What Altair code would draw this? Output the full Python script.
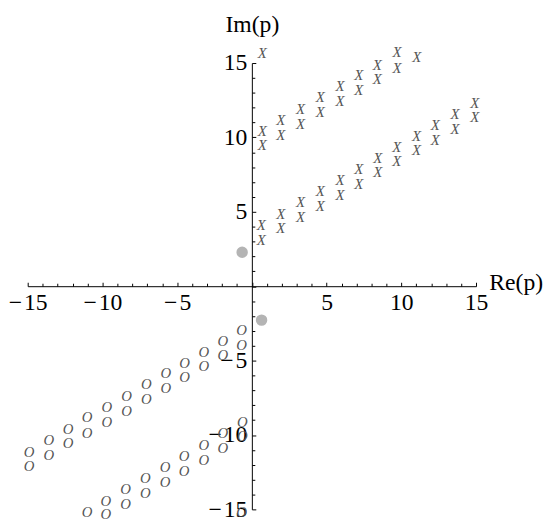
import altair as alt
import pandas as pd

# ---- data ----
# "X" markers (upper right)
x_band1_x = [0.63, 1.94, 3.26, 4.58, 5.90, 7.15, 8.42, 9.70, 11.02, 12.27, 13.59, 14.91]
x_band1_lo = [3.12, 3.91, 4.65, 5.38, 6.11, 6.85, 7.64, 8.40, 9.12, 9.85, 10.59, 11.37]
x_band1_hi = [4.11, 4.87, 5.64, 6.37, 7.14, 7.87, 8.61, 9.34, 10.11, 10.84, 11.60, 12.31]
x_band2_x = [0.69, 1.94, 3.26, 4.58, 5.90, 7.15, 8.40, 9.72, 11.04]
x_band2_lo = [9.47, 10.15, 10.92, 11.72, 12.44, 13.17, 13.89, 14.69, 15.41]
x_band2_hi = [10.46, 11.19, 11.91, 12.71, 13.43, 14.16, 14.88, 15.74]
x_band3_x = [0.69]
x_band3_lo = [15.68]

# "O" markers (lower left)
o_band1_x = [-0.69, -1.94, -3.22, -4.50, -5.75, -7.07, -8.39, -9.70, -11.02, -12.29, -13.59, -14.91]
o_band1_hi = [-2.98, -3.71, -4.41, -5.14, -5.84, -6.61, -7.38, -8.11, -8.81, -9.58, -10.35, -11.12]
o_band1_lo = [-3.93, -4.63, -5.40, -6.13, -6.83, -7.60, -8.37, -9.14, -9.87, -10.57, -11.34, -12.11]
o_band2_x = [-0.63, -1.94, -3.22, -4.54, -5.81, -7.13, -8.45, -9.77, -11.02]
o_band2_hi = [-9.14, -9.87, -10.68, -11.45, -12.16, -12.88, -13.65, -14.42, -15.19]
o_band2_lo = [-10.09, -10.90, -11.67, -12.44, -13.17, -13.91, -14.64, -15.30]
o_band3_x = [-0.69]
o_band3_hi = [-15.20]

# grey dots
dot_x = [-0.65, 0.65]
dot_y = [2.28, -2.28]

major_ticks = [-15, -10, -5, 5, 10, 15]
all_ticks = list(range(-15, 16))


def pts(xs, ys, label):
    return [{"re": a, "im": b, "m": label} for a, b in zip(xs, ys)]


x_rows = (pts(x_band1_x, x_band1_lo, "X") + pts(x_band1_x, x_band1_hi, "X")
          + pts(x_band2_x, x_band2_lo, "X") + pts(x_band2_x, x_band2_hi, "X")
          + pts(x_band3_x, x_band3_lo, "X"))
o_rows = (pts(o_band1_x, o_band1_hi, "O") + pts(o_band1_x, o_band1_lo, "O")
          + pts(o_band2_x, o_band2_hi, "O") + pts(o_band2_x, o_band2_lo, "O")
          + pts(o_band3_x, o_band3_hi, "O"))
df_x = pd.DataFrame(x_rows)
df_o = pd.DataFrame(o_rows)
df_dot = pd.DataFrame({"re": dot_x, "im": dot_y})

W, H = 455, 453
FONT = "Liberation Serif"
FS = 24
scale = alt.Scale(domain=[-15, 15], nice=False, zero=False)
tick_size = {"condition": {"test": "datum.value % 5 === 0", "value": 4}, "value": 3}
minus_expr = "datum.value < 0 ? '\u2212\u200a' + abs(datum.value) : datum.label"

x_tick_axis = alt.Axis(orient="top", offset=-H / 2, values=all_ticks, labels=False,
                       grid=False, domainColor="black", domainWidth=1,
                       tickColor="black", tickWidth=1, tickSize=tick_size,
                       title="Re(p)", titleX=W + 13, titleY=3, titleAlign="left",
                       titleBaseline="alphabetic", titleFont=FONT, titleFontSize=FS,
                       titleFontWeight="normal", titleColor="black")
y_tick_axis = alt.Axis(orient="right", offset=-W / 2, values=all_ticks, labels=False,
                       grid=False, domainColor="black", domainWidth=1,
                       tickColor="black", tickWidth=1, tickSize=tick_size,
                       title="Im(p)", titleAngle=0, titleX=0, titleY=-32,
                       titleAlign="center", titleBaseline="alphabetic", titleFont=FONT,
                       titleFontSize=FS, titleFontWeight="normal", titleColor="black")
x_label_axis = alt.Axis(orient="bottom", offset=-H / 2, values=major_ticks, ticks=False,
                        tickSize=0, domain=False, grid=False, labelFlush=False,
                        labelOverlap=False, labelFont=FONT, labelFontSize=FS,
                        labelColor="black", labelPadding=5, labelExpr=minus_expr,
                        title=None)
y_label_axis = alt.Axis(orient="left", offset=-W / 2, values=major_ticks, ticks=False,
                        tickSize=0, domain=False, grid=False, labelFlush=False,
                        labelOverlap=False, labelFont=FONT, labelFontSize=FS,
                        labelColor="black", labelPadding=5, labelExpr=minus_expr,
                        title=None)

marker_style = dict(font=FONT, fontSize=15, fontStyle="italic", color="#555555",
                    align="center", baseline="middle")

xs_layer = alt.Chart(df_x).mark_text(**marker_style).encode(
    x=alt.X("re:Q", scale=scale, axis=x_tick_axis),
    y=alt.Y("im:Q", scale=scale, axis=y_tick_axis),
    text="m:N",
)
os_layer = alt.Chart(df_o).mark_text(**marker_style).encode(
    x=alt.X("re:Q", scale=scale, axis=x_label_axis),
    y=alt.Y("im:Q", scale=scale, axis=y_label_axis),
    text="m:N",
)
dots = alt.Chart(df_dot).mark_circle(size=135, color="#b4b4b4", opacity=1).encode(
    x=alt.X("re:Q", scale=scale, axis=None),
    y=alt.Y("im:Q", scale=scale, axis=None),
)

chart = alt.layer(xs_layer, os_layer, dots).resolve_axis(
    x="independent", y="independent"
).properties(
    width=W, height=H,
    autosize=alt.AutoSizeParams(type="none"),
    padding={"left": 20, "top": 52, "right": 69, "bottom": 12},
).configure_view(strokeWidth=0)

chart.save("out.html", embed_options={"renderer": "svg", "actions": False})
